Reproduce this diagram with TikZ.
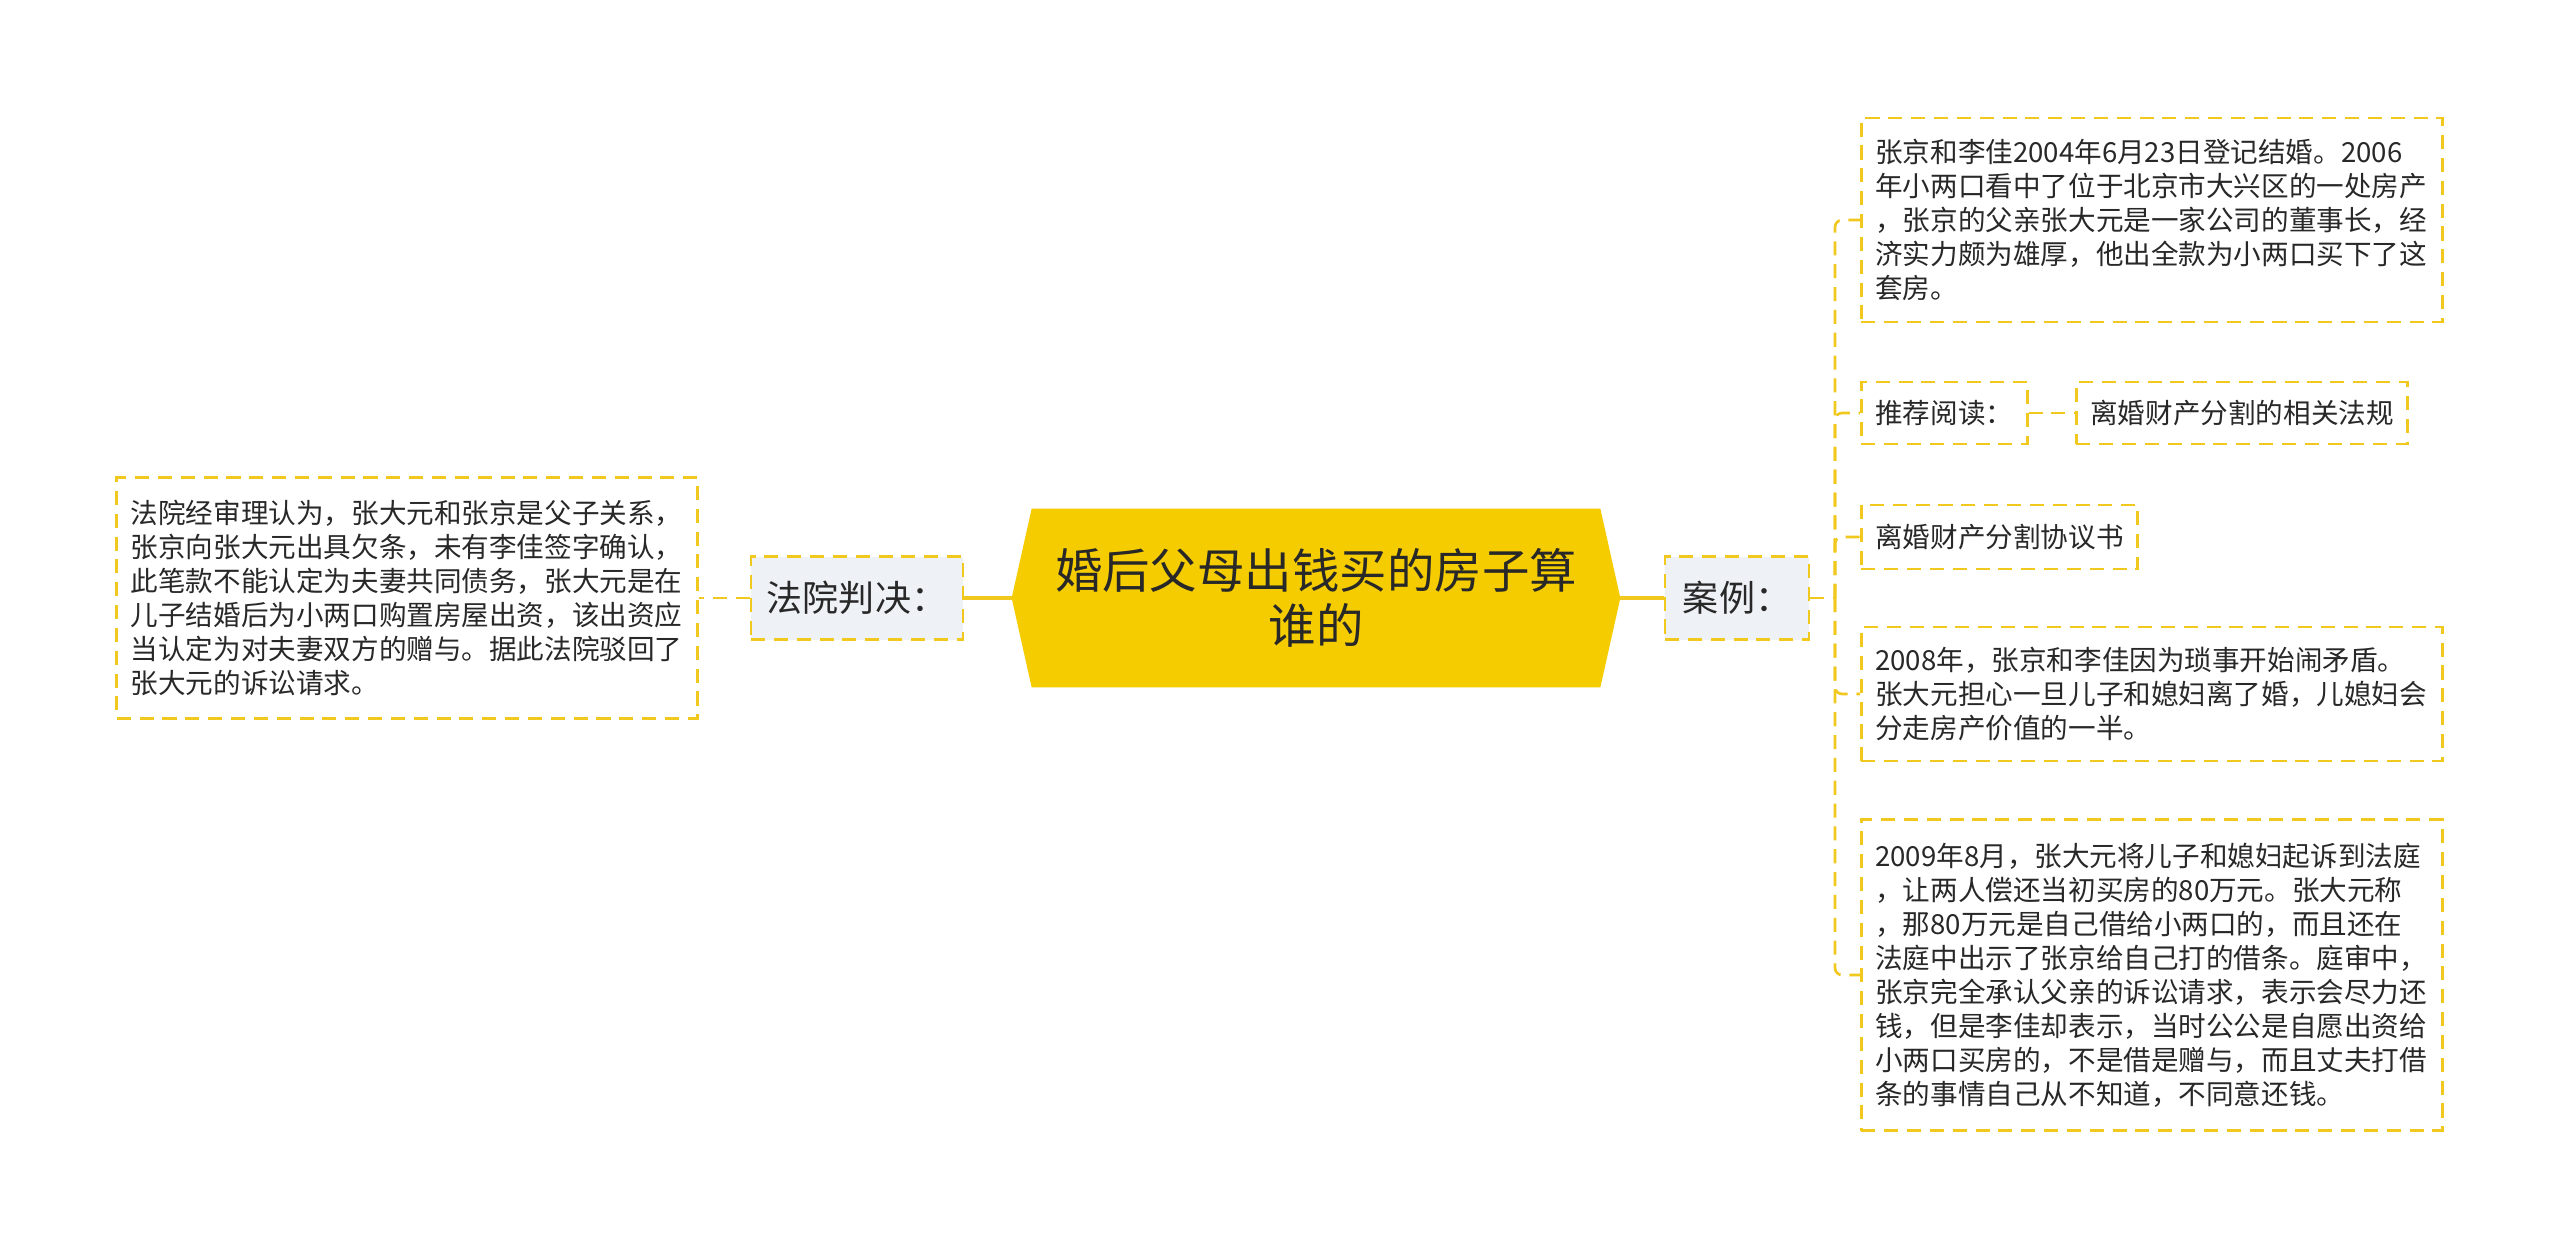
\documentclass[tikz,border=0pt]{standalone}
\usepackage{fontspec}
\setmainfont{Noto Sans CJK SC}
\usepackage{tikz}
\usetikzlibrary{backgrounds,calc}
\definecolor{topicYellow}{RGB}{245,204,0}
\definecolor{lineYellow}{RGB}{240,200,30}
\definecolor{subFill}{RGB}{238,241,245}
\definecolor{txtDark}{RGB}{40,40,40}
\tikzset{
  linkln/.style={line width=2.6pt, lineYellow},
  branchln/.style={line width=1.5pt, lineYellow, dash pattern=on 8pt off 5pt, rounded corners=4pt},
  topicbox/.style={align=center, text=txtDark, font=\fontsize{27}{31.6}\selectfont},
  subbox/.style={draw=lineYellow, fill=subFill, line width=1.5pt, dash pattern=on 8pt off 5pt,
    inner xsep=0.28cm, minimum height=83*0.02cm, text=txtDark, font=\fontsize{20.5}{24}\selectfont},
  leafbox/.style={draw=lineYellow, fill=white, line width=1.5pt, dash pattern=on 8pt off 5pt,
    inner xsep=0.28cm, align=left, text=txtDark, font=\fontsize{15.7}{19.35}\selectfont},
  textbox/.style={leafbox, text width=11.06cm},
}

\begin{document}
\begin{tikzpicture}[x=0.02cm, y=-0.02cm]
    \useasboundingbox (0,0) rectangle (2560,1253);
    % central topic
    \node[topicbox, minimum width=568*0.02cm, minimum height=178*0.02cm] (title) at (1316,598)
      {婚后父母出钱买的房子算\\谁的};
    \begin{scope}[on background layer]
      \fill[topicYellow] ([xshift=-0.4cm]title.west) -- (title.north west) -- (title.north east)
        -- ([xshift=0.4cm]title.east) -- (title.south east) -- (title.south west) -- cycle;
    \end{scope}
    \coordinate (hexL) at ([xshift=-0.4cm]title.west);
    \coordinate (hexR) at ([xshift=0.4cm]title.east);
    % left branch
    \node[subbox, minimum width=212*0.02cm] (verdict) at (857,598) {法院判决：};
    \node[textbox, anchor=east, minimum height=241*0.02cm] (verdictText) at (699,598)
      {法院经审理认为，张大元和张京是父子关系，\\
       张京向张大元出具欠条，未有李佳签字确认，\\
       此笔款不能认定为夫妻共同债务，张大元是在\\
       儿子结婚后为小两口购置房屋出资，该出资应\\
       当认定为对夫妻双方的赠与。据此法院驳回了\\
       张大元的诉讼请求。};
    % right branch
    \node[subbox, minimum width=144*0.02cm] (caseLbl) at (1737,598) {案例：};
    \coordinate (trunk) at (1835,598);
    \node[textbox, anchor=west, minimum height=204*0.02cm] (caseA) at (1860,220)
      {张京和李佳2004年6月23日登记结婚。2006\\
       年小两口看中了位于北京市大兴区的一处房产\\
       ，张京的父亲张大元是一家公司的董事长，经\\
       济实力颇为雄厚，他出全款为小两口买下了这\\
       套房。};
    \node[leafbox, anchor=west, minimum height=62*0.02cm] (readLbl) at (1860,413) {推荐阅读：};
    \node[leafbox, anchor=west, minimum height=62*0.02cm] (readLaw) at (2075,413) {离婚财产分割的相关法规};
    \node[leafbox, anchor=west, minimum height=64*0.02cm] (readDeal) at (1860,537) {离婚财产分割协议书};
    \node[textbox, anchor=west, minimum height=134*0.02cm] (caseB) at (1860,694)
      {2008年，张京和李佳因为琐事开始闹矛盾。\\
       张大元担心一旦儿子和媳妇离了婚，儿媳妇会\\
       分走房产价值的一半。};
    \node[textbox, anchor=west, minimum height=311*0.02cm] (caseC) at (1860,975)
      {2009年8月，张大元将儿子和媳妇起诉到法庭\\
       ，让两人偿还当初买房的80万元。张大元称\\
       ，那80万元是自己借给小两口的，而且还在\\
       法庭中出示了张京给自己打的借条。庭审中，\\
       张京完全承认父亲的诉讼请求，表示会尽力还\\
       钱，但是李佳却表示，当时公公是自愿出资给\\
       小两口买房的，不是借是赠与，而且丈夫打借\\
       条的事情自己从不知道，不同意还钱。};
    % connectors
    \draw[linkln] (hexL) -- (verdict.east);
    \draw[linkln] (hexR) -- (caseLbl.west);
    \draw[branchln] (verdict.west) -- (verdictText.east);
    \draw[branchln] (caseLbl.east) -- (trunk);
    \foreach \n in {caseA,readLbl,readDeal,caseB,caseC}
      \draw[branchln] (trunk) |- (\n.west);
    \draw[branchln] (readLbl.east) -- (readLaw.west);
  \end{tikzpicture}
\end{document}
